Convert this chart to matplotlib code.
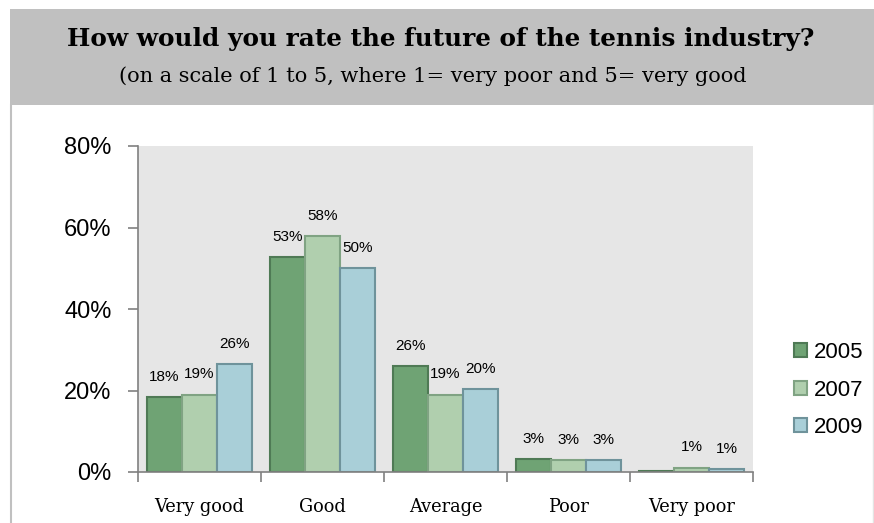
import matplotlib
matplotlib.use("Agg")
import matplotlib.pyplot as plt
from matplotlib.patches import Rectangle
import numpy as np

categories = ["Very good", "Good", "Average", "Poor", "Very poor"]
years = ["2005", "2007", "2009"]
pct_2005 = [18.3, 52.8, 26.0, 3.2, 0.2]
pct_2007 = [19.0, 58.0, 19.0, 3.0, 1.1]
pct_2009 = [26.4, 50.0, 20.3, 3.0, 0.7]
yticks = [0, 20, 40, 60, 80]

face = ["#6fa374", "#b0cfae", "#a9cfd8"]
edge = ["#4f7a55", "#80a383", "#6f939b"]

fig = plt.figure(figsize=(8.74, 5.23), dpi=100)

# grey header band and thin frame line
fig.patches.append(Rectangle((10 / 874, 1 - 105 / 523), 864 / 874, 96 / 523,
                             transform=fig.transFigure, facecolor="#c0c0c0",
                             edgecolor="none", zorder=0))
fig.add_artist(plt.Line2D([11 / 874, 11 / 874], [0, 1 - 105 / 523],
                          transform=fig.transFigure, color="#c0c0c0", lw=1.5))
fig.add_artist(plt.Line2D([873 / 874, 873 / 874], [0, 1 - 105 / 523],
                          transform=fig.transFigure, color="#e4e4e4", lw=1))

fig.text(441 / 874, 1 - 39 / 523, "How would you rate the future of the tennis industry?",
         ha="center", va="center", fontsize=17.8, fontweight="bold", family="DejaVu Serif")
fig.text(433 / 874, 1 - 76 / 523, "(on a scale of 1 to 5, where 1= very poor and 5= very good",
         ha="center", va="center", fontsize=15, family="DejaVu Serif")

ax = fig.add_axes([138 / 874, 51 / 523, 615 / 874, 326 / 523])
ax.set_facecolor("#e6e6e6")

x = np.arange(len(categories))
w = 0.285
for i, vals in enumerate([pct_2005, pct_2007, pct_2009]):
    pos = x + (i - 1) * w
    ax.bar(pos, vals, w, color=face[i], edgecolor=edge[i], linewidth=1.5,
           label=years[i], zorder=2)
    for px, v in zip(pos, vals):
        if v < 0.5:
            continue
        ax.annotate(f"{v:.0f}%", (px, v), xytext=(0, 14.5), textcoords="offset points",
                    ha="center", va="center", fontsize=11, family="Liberation Sans")

ax.set_xlim(-0.5, len(categories) - 0.5)
ax.set_ylim(0, 80)
ax.set_yticks(yticks)
ax.set_yticklabels([f"{t}%" for t in yticks], family="Liberation Sans", fontsize=17)
ax.set_xticks(np.arange(-0.5, len(categories)), labels=[])
ax.set_xticks(x, labels=categories, minor=True)
ax.tick_params(axis="x", which="major", direction="out", length=7, color="#808080", width=1.2)
ax.tick_params(axis="x", which="minor", length=0, pad=19, labelsize=12.8)
for lab in ax.get_xticklabels(minor=True):
    lab.set_family("DejaVu Serif")
ax.tick_params(axis="y", direction="out", length=7, color="#808080", width=1.2, pad=12)

for s in ["top", "right"]:
    ax.spines[s].set_visible(False)
for s in ["left", "bottom"]:
    ax.spines[s].set_color("#808080")
    ax.spines[s].set_linewidth(1.2)

fig.legend(loc="upper left", bbox_to_anchor=(785 / 874, 1 - 333 / 523), frameon=False,
           prop={"family": "Liberation Sans", "size": 16}, handlelength=0.6,
           handleheight=0.6, handletextpad=0.3, labelspacing=0.75, borderaxespad=0)

fig.savefig("out.png", dpi=100)
